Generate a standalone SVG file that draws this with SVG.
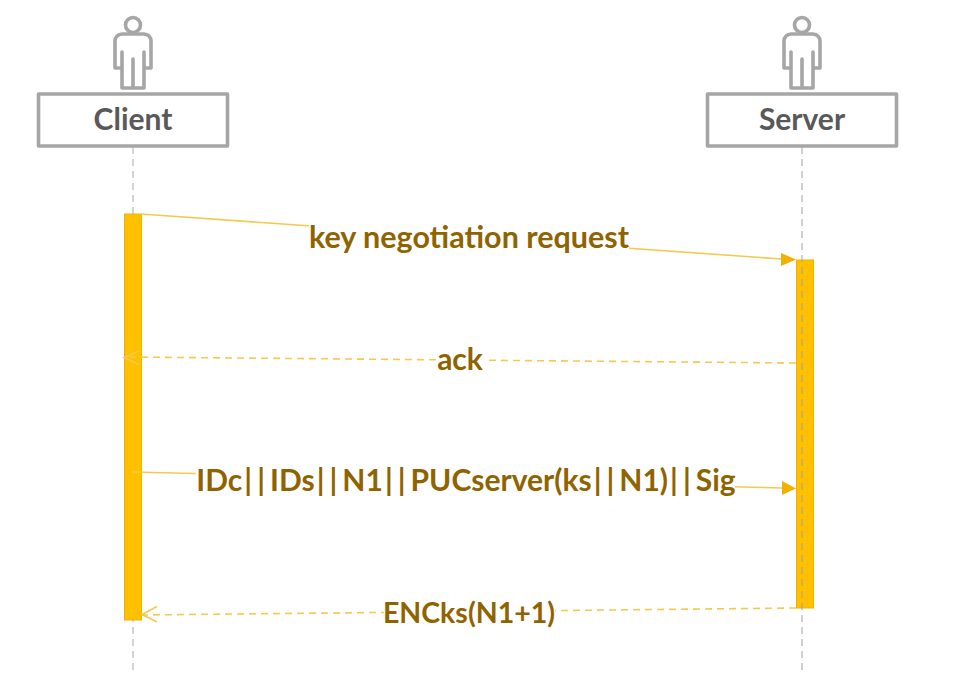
<svg xmlns="http://www.w3.org/2000/svg" width="957" height="693" viewBox="0 0 957 693">
<style>
.lifeline{stroke:#bdbdbd;stroke-width:1.3;stroke-dasharray:7 5;fill:none}
.lifeline2{stroke:#a0a0a0;stroke-width:1;stroke-dasharray:7 5;fill:none}
.box{fill:#fff;stroke:#a6a6a6;stroke-width:3.6;stroke-linejoin:round}
.actor{fill:none;stroke:#a6a6a6;stroke-width:3.6;stroke-linejoin:round;stroke-linecap:round}
.name{font:bold 30px Lato,"Open Sans","Liberation Sans",sans-serif;fill:#595959;text-anchor:middle}
.act{fill:#ffc000;stroke:#f0b400;stroke-width:1}
.msg{stroke:#f5c94f;stroke-width:1.6;fill:none}
.dash{stroke-dasharray:7 5}
.lbl{font:bold 30px Lato,"Open Sans","Liberation Sans",sans-serif;fill:#8f6400;text-anchor:middle}
.p{letter-spacing:5px}
.halo{fill:#fff}
</style>
<defs>
<g id="person">
<circle cx="0" cy="25" r="7.500" class="actor"/>
<path class="actor" d="M-18 68V41a7 7 0 0 1 7-7H11a7 7 0 0 1 7 7V68H11V52M-18 68H-11V52V88H11V52M0 59V88"/>
</g>
</defs>
<g id="client">
<line class="lifeline" x1="133" y1="147" x2="133" y2="673"/>
<use href="#person" x="133"/>
<rect class="box" x="38.500" y="94" width="189" height="52"/>
<text class="name" x="133" y="130">Client</text>
</g>
<g id="client-activation"><rect class="act" x="124.500" y="214" width="17" height="406"/></g>
<g id="server">
<use href="#person" x="802"/>
<rect class="box" x="707.500" y="94" width="189" height="52"/>
<text class="name" x="802" y="130">Server</text>
</g>
<g id="server-activation"><rect class="act" x="796.500" y="260" width="17" height="348"/><line class="lifeline2" x1="802" y1="147" x2="802" y2="673"/></g>
<g id="connectors">
<line class="msg" x1="141" y1="214" x2="782" y2="259"/>
<polygon points="796,259.500 781,253 781,266" fill="#f2b000"/>
<line class="msg dash" x1="796" y1="363" x2="124" y2="357"/>
<path class="msg" d="M139 351L124 357.500L139 364.500"/>
<line class="msg" x1="133" y1="472" x2="782" y2="488"/>
<polygon points="796,488.500 782,481 782,495" fill="#f2b000"/>
<line class="msg dash" x1="796" y1="608" x2="142" y2="615"/>
<path class="msg" d="M157 606.500L142 614.500L157 622"/>
</g>
<g id="labels">
<rect class="halo" x="309" y="222" width="320" height="32"/>
<text class="lbl" x="469" y="248" style="font-size:30.500px">key negotiation request</text>
<rect class="halo" x="437" y="345" width="47" height="32"/>
<text class="lbl" x="460" y="370">ack</text>
<rect class="halo" x="196" y="465" width="539" height="32"/>
<text class="lbl" x="466" y="491">IDc<tspan class="p" dx="2">||</tspan>IDs<tspan class="p" dx="2">||</tspan>N1<tspan class="p" dx="2">||</tspan>PUCserver(ks<tspan class="p" dx="2">||</tspan>N1)<tspan class="p" dx="2">||</tspan>Sig</text>
<rect class="halo" x="384" y="597" width="171" height="32"/>
<text class="lbl" x="469" y="623" style="font-size:28.500px">ENCks(N1+1)</text>
</g>
</svg>
